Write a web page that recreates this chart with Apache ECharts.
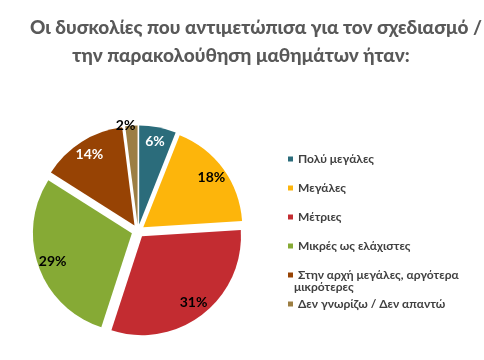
<!DOCTYPE html>
<html><head><meta charset="utf-8">
<script src="https://cdn.jsdelivr.net/npm/echarts@6/dist/echarts.min.js"></script>
<style>html,body{margin:0;padding:0;background:#fff}#c{width:484px;height:360px}</style>
</head><body><div id="c"></div>
<script>
const categories = ['Πολύ μεγάλες','Μεγάλες','Μέτριες','Μικρές ως ελάχιστες','Στην αρχή μεγάλες, αργότερα μικρότερες','Δεν γνωρίζω / Δεν απαντώ'];
const values = [6, 18, 31, 29, 14, 2];
const colors = ['#2B6C7B','#FDB50B','#C32C31','#86AA35','#974304','#9C7E43'];
const labelColors = ['#ffffff','#000000','#000000','#000000','#ffffff','#000000'];
const titleLines = ['Οι δυσκολίες που αντιμετώπισα για τον σχεδιασμό /','την παρακολούθηση μαθημάτων ήταν:'];

const FONT = 'Lato';
const center = [138, 231];
const R = 99;
const OFF = 6.5;

const mainData = categories.map((n,i)=>({
  name:n, value:values[i], selected:true,
  itemStyle:{color:colors[i]},
  label: i===5 ? {show:true} : {show:false}
}));
const overlayData = categories.map((n,i)=>({
  name:n, value:values[i], selected:true,
  itemStyle:{color:'rgba(0,0,0,0)'},
  label: i===5 ? {show:false} : {show:true, color:labelColors[i]}
}));

const chart = echarts.init(document.getElementById('c'));
chart.setOption({
  animation:false,
  title:[
    {text:titleLines[0], left:251, top:13, textAlign:'center',
     textStyle:{fontFamily:FONT,fontWeight:900,fontSize:19,color:'#595959'}},
    {text:titleLines[1], left:236, top:41, textAlign:'center',
     textStyle:{fontFamily:FONT,fontWeight:900,fontSize:19,color:'#595959'}}
  ],
  legend:{
    orient:'vertical', left:283, top:147, icon:'rect', itemWidth:5, itemHeight:5,
    itemGap:15, selectedMode:false,
    formatter:function(n){ return n.indexOf('Στην αρχή')===0 ? 'Στην αρχή μεγάλες, αργότερα' : n; },
    textStyle:{fontFamily:FONT,fontWeight:'bold',fontSize:12,color:'#404040',lineHeight:14,padding:[0,0,0,0]},
    data:categories
  },
  graphic:[{type:'text', left:294, top:281,
    style:{text:'μικρότερες', font:'bold 12px Lato', fill:'#404040'}}],
  series:[
    {type:'pie', center:center, radius:R, startAngle:90, clockwise:true,
     selectedMode:'multiple', selectedOffset:OFF, silent:true,
     label:{position:'outside', fontFamily:FONT, fontWeight:'bold', fontSize:14, color:'#000',
       formatter:'{c}%', distanceToLabelLine:-4},
     labelLine:{show:false, length:0, length2:0},
     data:mainData},
    {type:'pie', center:center, radius:R*1.64, startAngle:90, clockwise:true,
     selectedMode:'multiple', selectedOffset:OFF, silent:true,
     label:{position:'inside', fontFamily:FONT, fontWeight:'bold', fontSize:14,
       formatter:'{c}%'},
     labelLine:{show:false},
     data:overlayData}
  ]
});
</script></body></html>
